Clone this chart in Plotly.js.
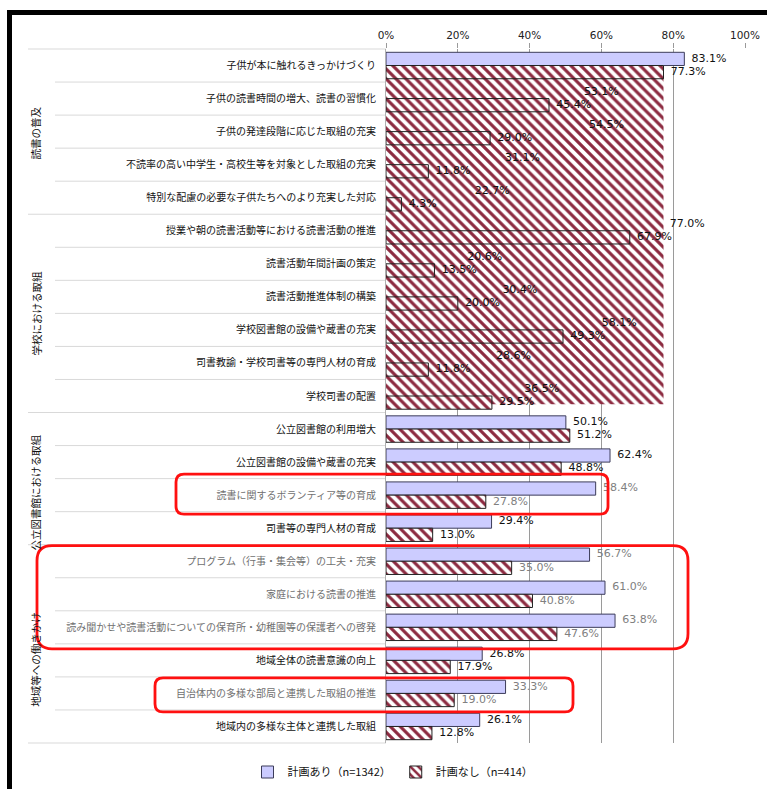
<!DOCTYPE html>
<html>
<head>
<meta charset="utf-8">
<script src="https://cdn.plot.ly/plotly-3.0.1.min.js"></script>
<style>
  html, body { margin: 0; padding: 0; background: #fff; }
  #wrap { position: relative; width: 767px; height: 789px; }
  #chart { width: 767px; height: 789px; }
  #frame {
    position: absolute; left: 7px; top: 10px; right: 0; bottom: 0;
    border-left: 5px solid #000; border-top: 5px solid #000;
    pointer-events: none;
  }
</style>
</head>
<body>
<div id="wrap"><div id="chart"></div><div id="frame"></div></div>
<script>
// ---- data ----
const categories = [
  '子供が本に触れるきっかけづくり',
  '子供の読書時間の増大、読書の習慣化',
  '子供の発達段階に応じた取組の充実',
  '不読率の高い中学生・高校生等を対象とした取組の充実',
  '特別な配慮の必要な子供たちへのより充実した対応',
  '授業や朝の読書活動等における読書活動の推進',
  '読書活動年間計画の策定',
  '読書活動推進体制の構築',
  '学校図書館の設備や蔵書の充実',
  '司書教諭・学校司書等の専門人材の育成',
  '学校司書の配置',
  '公立図書館の利用増大',
  '公立図書館の設備や蔵書の充実',
  '読書に関するボランティア等の育成',
  '司書等の専門人材の育成',
  'プログラム（行事・集会等）の工夫・充実',
  '家庭における読書の推進',
  '読み聞かせや読書活動についての保育所・幼稚園等の保護者への啓発',
  '地域全体の読書意識の向上',
  '自治体内の多様な部局と連携した取組の推進',
  '地域内の多様な主体と連携した取組'
];
const groupNames = ['読書の普及', '学校における取組', '公立図書館における取組', '地域等への働きかけ'];
const groupSizes = [5, 6, 4, 6];
const planYes = [83.1, 53.1, 54.5, 31.1, 22.7, 77.0, 20.6, 30.4, 58.1, 28.6, 36.5,
                 50.1, 62.4, 58.4, 29.4, 56.7, 61.0, 63.8, 26.8, 33.3, 26.1];
const planNo  = [77.3, 45.4, 29.0, 11.8, 4.3, 67.9, 13.5, 20.0, 49.3, 11.8, 29.5,
                 51.2, 48.8, 27.8, 13.0, 35.0, 40.8, 47.6, 17.9, 19.0, 12.8];
const seriesNames = ['計画あり（n=1342）', '計画なし（n=414）'];
const xTicks = [0, 20, 40, 60, 80, 100];
const highlightedRows = [13, 15, 16, 17, 19];

// ---- geometry / style ----
const W = 767, H = 789;
const M = { l: 386, r: 22, t: 49, b: 46, autoexpand: false };
const plotW = W - M.l - M.r, plotH = H - M.t - M.b;
const n = categories.length;
const idx = categories.map((_, i) => i);
const barW = 0.4;
const jpFont = '"Noto Sans CJK JP", "Noto Sans", sans-serif';
const numFont = '"DejaVu Sans", Verdana, sans-serif';
const hatch = { shape: '\\', fgcolor: '#8c2a40', bgcolor: '#ffffff', size: 7, solidity: 0.45 };
const isHi = i => highlightedRows.includes(i);

const pxX = px => (px - M.l) / plotW;            // pixel -> paper x
const edgeY = k => 1 - k / n;                      // row boundary k -> paper y

// the hatched band spanning the first two groups
const bandRows = groupSizes[0] + groupSizes[1];

// value labels sit just right of each bar end
const labelTrace = (vals, dy) => ({
  type: 'scatter', mode: 'markers+text', showlegend: false, cliponaxis: false,
  x: vals, y: idx.map(i => i + dy),
  marker: { size: 10, color: 'rgba(0,0,0,0)' },
  text: vals.map(v => v.toFixed(1) + '%'), textposition: 'middle right',
  textfont: { family: numFont, size: 11, color: idx.map(i => isHi(i) ? '#808080' : '#111') },
  hoverinfo: 'skip'
});

const traces = [
  {
    type: 'bar', orientation: 'h', name: seriesNames[0],
    x: planYes, y: idx, offset: -barW, width: barW,
    marker: { color: '#ccccff', line: { color: '#3c3c5a', width: 1 } },
    hoverinfo: 'x+y'
  },
  {
    type: 'bar', orientation: 'h', showlegend: false,
    x: [planNo[0]], y: [0], offset: 0, width: bandRows - 1 + 0.25,
    marker: { color: '#fff', pattern: hatch, line: { width: 0 } },
    hoverinfo: 'skip'
  },
  {
    type: 'bar', orientation: 'h', name: seriesNames[1],
    x: planNo, y: idx, offset: 0, width: barW,
    marker: { color: '#fff', pattern: hatch, line: { color: '#222', width: 1 } },
    hoverinfo: 'x+y'
  },
  labelTrace(planYes, -barW / 2),
  labelTrace(planNo, barW / 2)
];

// category separators in the label column
const shapes = [];
const groupEdges = [0];
groupSizes.forEach(s => groupEdges.push(groupEdges[groupEdges.length - 1] + s));
for (let k = 0; k <= n; k++) {
  const major = groupEdges.includes(k);
  shapes.push({
    type: 'line', xref: 'paper', yref: 'paper',
    x0: pxX(major ? 28 : 55), x1: 0, y0: edgeY(k), y1: edgeY(k),
    line: { color: '#d9d9d9', width: 1 }, layer: 'below'
  });
}

// red highlight frames (rounded)
const frames = [
  { r0: 13, r1: 14, x0: 176, x1: 608, padT: 4.5, padB: 2.5, rad: 8 },
  { r0: 15, r1: 18, x0: 37,  x1: 688, padT: -1,  padB: 5,   rad: 15 },
  { r0: 19, r1: 20, x0: 155, x1: 573, padT: -1,  padB: 2,   rad: 8 }
];
frames.forEach(f => {
  const x0 = pxX(f.x0), x1 = pxX(f.x1);
  const yT = edgeY(f.r0) + f.padT / plotH, yB = edgeY(f.r1) - f.padB / plotH;
  const rx = f.rad / plotW, ry = f.rad / plotH;
  const path = `M ${x0 + rx},${yT} L ${x1 - rx},${yT} Q ${x1},${yT} ${x1},${yT - ry} ` +
               `L ${x1},${yB + ry} Q ${x1},${yB} ${x1 - rx},${yB} L ${x0 + rx},${yB} ` +
               `Q ${x0},${yB} ${x0},${yB + ry} L ${x0},${yT - ry} Q ${x0},${yT} ${x0 + rx},${yT} Z`;
  shapes.push({ type: 'path', xref: 'paper', yref: 'paper', path,
                line: { color: '#ff1010', width: 2.8 }, layer: 'above' });
});

// vertical group titles
const groupShift = [-2, 0, -14, -16];
const annotations = groupNames.map((g, i) => ({
  xref: 'paper', yref: 'paper', x: pxX(36), y: 1 - (groupEdges[i] + groupEdges[i + 1]) / 2 / n,
  xanchor: 'center', yanchor: 'middle',
  text: g, textangle: -90, showarrow: false, yshift: groupShift[i],
  font: { family: jpFont, size: 10.5, color: '#111' }
}));

const layout = {
  width: W, height: H,
  margin: M,
  paper_bgcolor: '#fff', plot_bgcolor: '#fff',
  barmode: 'overlay',
  showlegend: true,
  legend: {
    orientation: 'h', x: pxX(393), xanchor: 'center', y: -29 / plotH, yanchor: 'middle',
    font: { family: jpFont, size: 11, color: '#111' }, itemwidth: 30
  },
  xaxis: {
    side: 'top', range: [0, 100], tickvals: xTicks, ticktext: xTicks.map(v => v + '%'),
    showgrid: true, gridcolor: '#9a9a9a', gridwidth: 1,
    ticks: 'outside', ticklen: 5, tickcolor: '#9a9a9a',
    zeroline: false, showline: false,
    tickfont: { family: numFont, size: 10.5, color: '#222' }, fixedrange: true
  },
  yaxis: {
    range: [n - 0.5, -0.5], tickvals: idx,
    ticktext: categories.map((c, i) => isHi(i) ? `<span style="color:#707070">${c}</span>` : c),
    ticks: 'outside', ticklen: 7, tickcolor: 'rgba(0,0,0,0)',
    showgrid: false, zeroline: false, showline: true, linecolor: '#b0b0b0',
    tickfont: { family: jpFont, size: 10, color: '#111' }, fixedrange: true
  },
  shapes, annotations
};

Plotly.newPlot('chart', traces, layout, { displayModeBar: false, staticPlot: true });
</script>
</body>
</html>
